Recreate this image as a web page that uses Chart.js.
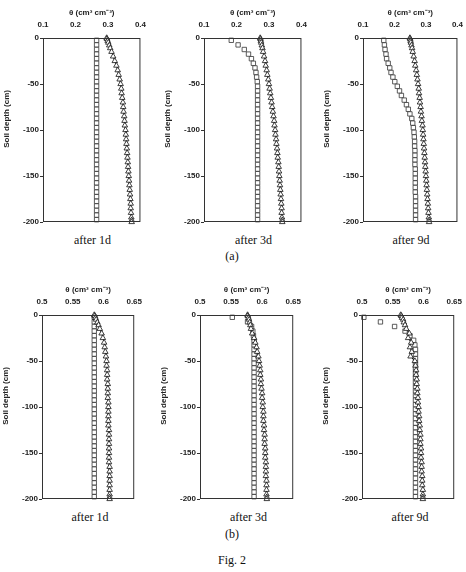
<!DOCTYPE html>
<html><head><meta charset="utf-8">
<script src="https://cdn.jsdelivr.net/npm/chart.js@4"></script>
<style>
body{margin:0;background:#fff;width:466px;height:572px;position:relative;overflow:hidden}
canvas{position:absolute}
.cap{position:absolute;font-family:"Liberation Serif","Times New Roman",serif;font-size:12px;color:#111;transform:translateX(-50%);white-space:nowrap;line-height:14px}
</style></head><body>
<script>
// ---- data ----
const sqDepth = [-2.5,-7.5,-12.5,-17.5,-22.5,-27.5,-32.5,-37.5,-42.5,-47.5,-52.5,-57.5,-62.5,-67.5,-72.5,-77.5,-82.5,-87.5,-92.5,-97.5,-102.5,-107.5,-112.5,-117.5,-122.5,-127.5,-132.5,-137.5,-142.5,-147.5,-152.5,-157.5,-162.5,-167.5,-172.5,-177.5,-182.5,-187.5,-192.5,-197.5];
const triDepth = [0,-1,-3,-5,-8,-11,-15,-20,-25,-30,-35,-40,-45,-50,-55,-60,-65,-70,-75,-80,-85,-90,-95,-100,-105,-110,-115,-120,-125,-130,-135,-140,-145,-150,-155,-160,-165,-170,-175,-180,-185,-190,-195,-198,-200];

const xTicksA = [0.1, 0.4, 0.1];   // min, max, step (row a)
const xTicksB = [0.5, 0.65, 0.05]; // min, max, step (row b)
const yTicks = [-200, 0, 50];

const sqA1 = [0.265,0.265,0.265,0.265,0.265,0.265,0.265,0.265,0.265,0.265,0.265,0.265,0.265,0.265,0.265,0.265,0.265,0.265,0.265,0.265,0.265,0.265,0.265,0.265,0.265,0.265,0.265,0.265,0.265,0.265,0.265,0.265,0.265,0.265,0.265,0.265,0.265,0.265,0.265,0.265];
const triA1 = [0.296,0.297,0.299,0.301,0.304,0.307,0.311,0.316,0.321,0.326,0.330,0.333,0.336,0.339,0.341,0.342,0.344,0.346,0.347,0.348,0.350,0.351,0.352,0.354,0.355,0.356,0.357,0.358,0.359,0.360,0.361,0.362,0.363,0.364,0.365,0.366,0.367,0.368,0.369,0.370,0.370,0.371,0.372,0.373,0.373];

const sqA3 = [0.184,0.205,0.224,0.237,0.246,0.252,0.257,0.260,0.262,0.264,0.265,0.265,0.265,0.265,0.265,0.265,0.265,0.265,0.265,0.265,0.265,0.265,0.265,0.265,0.265,0.265,0.265,0.265,0.265,0.265,0.265,0.265,0.265,0.265,0.265,0.265,0.265,0.265,0.265,0.265];
const triA3 = [0.273,0.274,0.275,0.276,0.278,0.280,0.282,0.285,0.288,0.290,0.293,0.295,0.298,0.300,0.302,0.304,0.306,0.308,0.310,0.312,0.314,0.316,0.317,0.319,0.320,0.322,0.323,0.325,0.326,0.327,0.329,0.330,0.331,0.332,0.333,0.334,0.335,0.336,0.337,0.338,0.339,0.339,0.340,0.341,0.341];

const sqA9 = [0.166,0.168,0.170,0.173,0.175,0.180,0.185,0.189,0.195,0.201,0.209,0.216,0.222,0.231,0.238,0.244,0.249,0.255,0.258,0.260,0.262,0.263,0.264,0.264,0.265,0.265,0.265,0.265,0.266,0.266,0.266,0.266,0.266,0.266,0.267,0.267,0.267,0.267,0.267,0.267];
const triA9 = [0.249,0.250,0.251,0.252,0.254,0.256,0.258,0.261,0.264,0.266,0.269,0.271,0.273,0.275,0.277,0.278,0.280,0.281,0.283,0.284,0.286,0.287,0.289,0.290,0.291,0.292,0.293,0.294,0.295,0.296,0.297,0.298,0.299,0.300,0.301,0.302,0.303,0.304,0.305,0.306,0.307,0.308,0.309,0.310,0.310];

const sqB1 = [0.585,0.585,0.585,0.585,0.585,0.585,0.585,0.585,0.585,0.585,0.585,0.585,0.585,0.585,0.585,0.585,0.585,0.585,0.585,0.585,0.585,0.585,0.585,0.585,0.585,0.585,0.585,0.585,0.585,0.585,0.585,0.585,0.585,0.585,0.585,0.585,0.585,0.585,0.585,0.585];
const triB1 = [0.585,0.586,0.587,0.588,0.590,0.592,0.594,0.597,0.599,0.601,0.602,0.603,0.604,0.605,0.605,0.606,0.606,0.606,0.607,0.607,0.607,0.607,0.608,0.608,0.608,0.608,0.608,0.608,0.609,0.609,0.609,0.609,0.609,0.609,0.609,0.609,0.610,0.610,0.610,0.610,0.610,0.610,0.610,0.610,0.610];

const sqB3 = [0.552,0.5765,0.583,0.585,0.586,0.587,0.587,0.587,0.587,0.587,0.587,0.587,0.587,0.587,0.587,0.587,0.587,0.587,0.587,0.587,0.587,0.587,0.587,0.587,0.587,0.587,0.587,0.587,0.587,0.587,0.587,0.587,0.587,0.587,0.587,0.587,0.587,0.587,0.587,0.587];
const triB3 = [0.5765,0.577,0.578,0.579,0.580,0.581,0.582,0.584,0.587,0.589,0.591,0.592,0.594,0.595,0.596,0.597,0.597,0.598,0.598,0.599,0.600,0.600,0.601,0.601,0.602,0.602,0.602,0.603,0.603,0.604,0.604,0.604,0.605,0.605,0.605,0.606,0.606,0.606,0.606,0.607,0.607,0.607,0.607,0.6075,0.6075];

const sqB9 = [0.503,0.530,0.553,0.570,0.578,0.584,0.586,0.587,0.587,0.587,0.587,0.587,0.587,0.587,0.587,0.587,0.587,0.587,0.587,0.587,0.587,0.587,0.587,0.587,0.587,0.587,0.587,0.587,0.587,0.587,0.587,0.587,0.587,0.587,0.587,0.587,0.587,0.587,0.587,0.587];
const triB9 = [0.563,0.564,0.565,0.567,0.568,0.570,0.572,0.577,0.575,0.580,0.578,0.581,0.579,0.586,0.587,0.588,0.588,0.589,0.589,0.590,0.590,0.591,0.591,0.592,0.592,0.593,0.593,0.594,0.594,0.595,0.595,0.595,0.596,0.596,0.596,0.597,0.597,0.597,0.598,0.598,0.598,0.599,0.599,0.599,0.599];

const captions = ["after 1d","after 3d","after 9d"];

// ---- layout (positions only) ----
const AXW = 43, AXH = 38, PADR = 12, PADB = 10;
const panels = [
  {pl:43,  pt:38,  pw:99, ph:184, x:xTicksA, sq:sqA1, tri:triA1, cap:0},
  {pl:204, pt:38,  pw:99, ph:184, x:xTicksA, sq:sqA3, tri:triA3, cap:1},
  {pl:363, pt:38,  pw:96, ph:184, x:xTicksA, sq:sqA9, tri:triA9, cap:2},
  {pl:42,  pt:315, pw:96, ph:184, x:xTicksB, sq:sqB1, tri:triB1, cap:0},
  {pl:200, pt:315, pw:97, ph:184, x:xTicksB, sq:sqB3, tri:triB3, cap:1},
  {pl:362, pt:315, pw:96, ph:184, x:xTicksB, sq:sqB9, tri:triB9, cap:2}
];

Chart.defaults.font.family = '"Liberation Sans", Arial, sans-serif';
Chart.defaults.font.size = 8;
Chart.defaults.font.weight = 'bold';
Chart.defaults.color = '#222';

const boxPlugin = {
  id:'box',
  afterDraw(chart){
    const a = chart.chartArea, c = chart.ctx;
    c.save(); c.strokeStyle = '#333'; c.lineWidth = 1;
    c.strokeRect(a.left + 0.5, a.top + 0.5, a.right - a.left - 1, a.bottom - a.top - 1);
    c.restore();
  }
};

function fmt(v){ return String(+Number(v).toFixed(2)); }
const yTitle = '\u00A0'.repeat(10) + 'Soil depth (cm)';

panels.forEach(p => {
  const cv = document.createElement('canvas');
  const W = p.pw + AXW + PADR, H = p.ph + AXH + PADB;
  cv.width = W; cv.height = H;
  cv.style.left = (p.pl - AXW) + 'px';
  cv.style.top = (p.pt - AXH) + 'px';
  cv.style.width = W + 'px'; cv.style.height = H + 'px';
  document.body.appendChild(cv);
  new Chart(cv, {
    type:'scatter',
    data:{datasets:[
      {data: triDepth.map((d,i)=>({x:p.tri[i], y:d})), showLine:true, borderColor:'#000', borderWidth:0.9,
       pointStyle:'triangle', pointRadius:3.2, pointBorderWidth:0.8, pointBorderColor:'#111', pointBackgroundColor:'#fff', clip:false, tension:0},
      {data: sqDepth.map((d,i)=>({x:p.sq[i], y:d})), showLine:false,
       pointStyle:'rect', pointRadius:3.1, pointBorderWidth:0.8, pointBorderColor:'#333', pointBackgroundColor:'#fff', clip:false}
    ]},
    options:{
      responsive:false, animation:false, devicePixelRatio:1,
      layout:{padding:{left:0, top:0, right:PADR, bottom:PADB}},
      plugins:{legend:{display:false}, tooltip:{enabled:false}},
      scales:{
        x:{type:'linear', position:'top', min:p.x[0], max:p.x[1],
           ticks:{stepSize:p.x[2], padding:8, callback:fmt, maxRotation:0, font:{size:8, weight:'bold'}},
           grid:{display:true, drawOnChartArea:false, drawTicks:false},
           border:{display:false},
           title:{display:true, text:'θ (cm³ cm⁻³)', padding:{top:8,bottom:0}, font:{size:8, weight:'bold'}},
           afterFit(s){ s.height = AXH; }},
        y:{type:'linear', position:'left', min:yTicks[0], max:yTicks[1],
           ticks:{stepSize:yTicks[2], padding:1, font:{size:8, weight:'bold'}},
           grid:{display:true, drawOnChartArea:false, drawTicks:true, tickLength:3, color:'#333'},
           border:{display:false},
           title:{display:true, text:yTitle, padding:{top:2,bottom:0}, font:{size:8, weight:'bold'}},
           afterFit(s){ s.width = AXW; }}
      }
    },
    plugins:[boxPlugin]
  });
  const d = document.createElement('div');
  d.className = 'cap';
  d.textContent = captions[p.cap];
  d.style.left = (p.pl + p.pw/2) + 'px';
  d.style.top = (p.pt + p.ph + 11) + 'px';
  document.body.appendChild(d);
});

[["(a)",232,249],["(b)",232,527],["Fig. 2",232,553]].forEach(t=>{
  const d = document.createElement('div');
  d.className = 'cap'; d.textContent = t[0];
  d.style.left = t[1] + 'px'; d.style.top = t[2] + 'px';
  document.body.appendChild(d);
});
</script>
</body></html>
